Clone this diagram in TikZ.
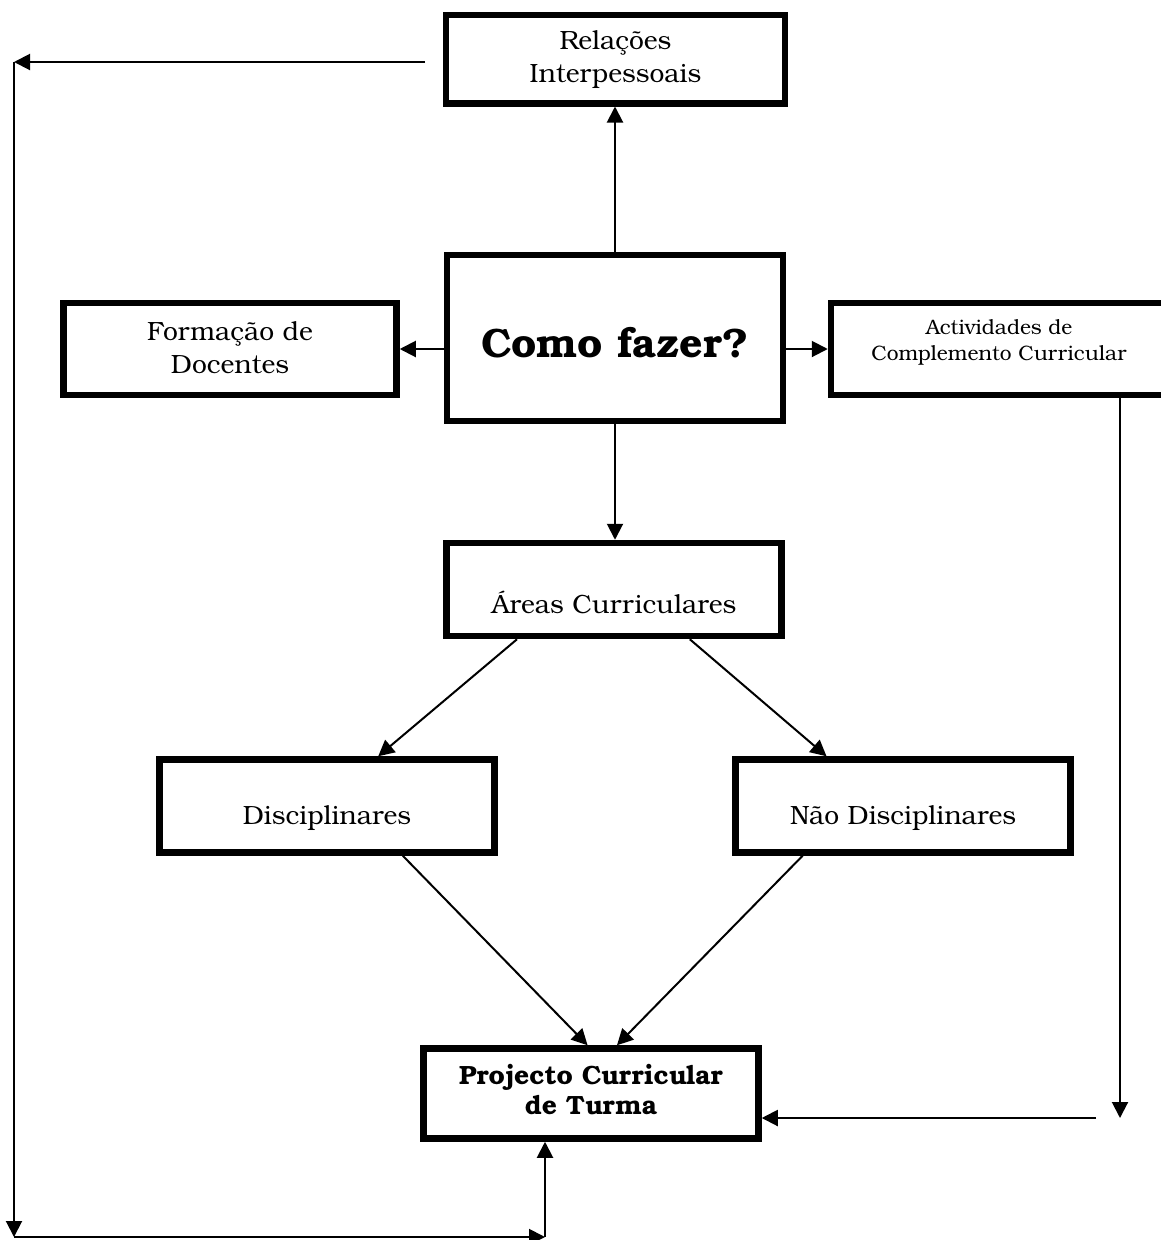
\documentclass[tikz,border=0pt]{standalone}
\usepackage{fontspec}
\setmainfont{TeX Gyre Bonum}
\usetikzlibrary{arrows.meta,calc}
\begin{document}
\begin{tikzpicture}[x=1pt,y=-1pt,
  box/.style={draw,line width=6.5pt,inner sep=0pt,minimum width=335pt,minimum height=93pt},
  txt/.style={align=center,inner sep=0pt,font=\fontsize{26.4}{33}\selectfont},
  conn/.style={line width=2pt,-{Triangle[length=16pt,width=16pt]}}]
\useasboundingbox (0,0) rectangle (1160,1240);
% boxes
\node[box,minimum width=339pt,minimum height=88.5pt] (rel) at (615.5,59) {};
\node[txt] (relT) at (615.5,60) {Relações\\Interpessoais};
\node[box,minimum width=336pt,minimum height=166pt] (como) at (615,338) {};
\node[txt,font=\bfseries\fontsize{41}{48}\selectfont] (comoT) at (615,343) {Como fazer?};
\node[box,minimum width=333pt,minimum height=92pt] (form) at (230,349) {};
\node[txt] (formT) at (230,348) {Formação de\\Docentes};
\node[box,minimum width=336pt,minimum height=92pt] (act) at (999,349) {};
\node[txt,font=\fontsize{20.9}{26}\selectfont] (actT) at (999,342) {Actividades de\\Complemento Curricular};
\node[box] (areas) at (614,589.5) {};
\node[txt] (areasT) at (614,602) {Áreas Curriculares};
\node[box] (disc) at (327,806) {};
\node[txt] (discT) at (327,818) {Disciplinares};
\node[box] (nao) at (903,806) {};
\node[txt] (naoT) at (903,818) {Não Disciplinares};
\node[box,minimum height=90pt] (proj) at (591,1093.5) {};
\node[txt,font=\bfseries\fontsize{26.4}{30}\selectfont] (projT) at (591,1090) {Projecto Curricular\\de Turma};
% connectors
\draw[conn] (como.north) -- (como.north |- rel.south);
\draw[conn] (form.east -| como.west) -- (form.east);
\draw[conn] (act.west -| como.east) -- (act.west);
\draw[conn] (como.south) -- (como.south |- areas.north);
\draw[conn] ($(areas.south west)!0.216!(areas.south east)$) -- ($(disc.north west)!0.65!(disc.north east)$);
\draw[conn] ($(areas.south west)!0.722!(areas.south east)$) -- ($(nao.north west)!0.276!(nao.north east)$);
\draw[conn] ($(disc.south west)!0.722!(disc.south east)$) -- ($(proj.north west)!0.49!(proj.north east)$);
\draw[conn] ($(nao.south west)!0.206!(nao.south east)$) -- ($(proj.north west)!0.576!(proj.north east)$);
% outer loop from Relações
\coordinate (relL) at (425,62);
\coordinate (TL) at (14,62);
\coordinate (BL) at (14,1237);
\coordinate (BR) at (545,1237);
\draw[conn] (relL) -- (TL);
\draw[conn] (TL) -- (BL);
\draw[conn] (BL) -- (BR);
\draw[conn] (BR) -- (BR |- proj.south);
% right loop from Actividades
\coordinate (AR) at (1120,1118);
\coordinate (AL) at (1096,1118);
\draw[conn] (act.south -| AR) -- (AR);
\draw[conn] (AL) -- (AL -| proj.east);
\end{tikzpicture}
\end{document}
